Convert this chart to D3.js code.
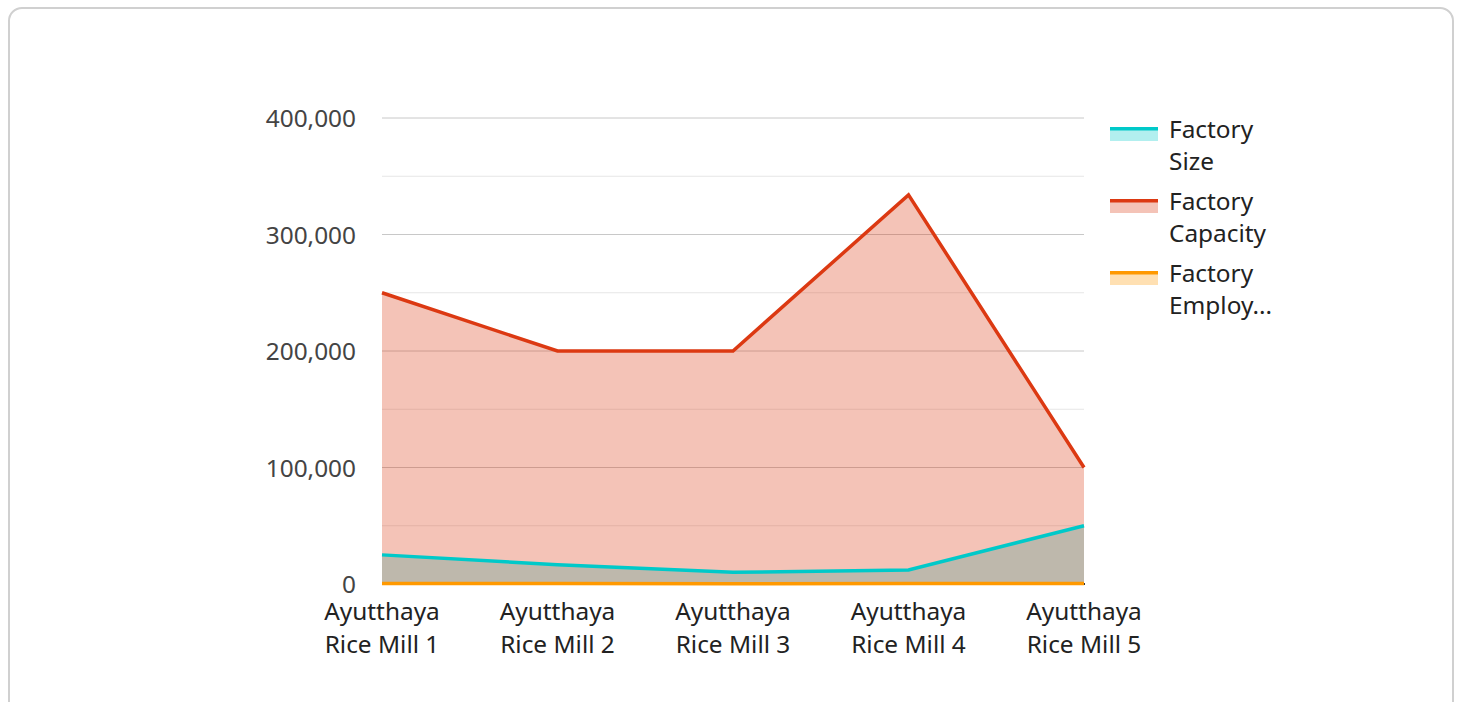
<!DOCTYPE html>
<html>
<head>
<meta charset="utf-8">
<script src="https://cdn.jsdelivr.net/npm/d3@7"></script>
<style>
  body { margin: 0; background: #fff; font-family: "Noto Sans", "Open Sans", sans-serif; }
  #card { position: absolute; left: 8px; top: 7px; width: 1446px; height: 720px;
          border: 2px solid #d0d0d0; border-radius: 14px; box-sizing: border-box; }
  svg { position: absolute; left: 0; top: 0; }
</style>
</head>
<body>
<div id="card"></div>
<svg id="chart" width="1460" height="702"></svg>
<script>
// chart data
var mills = ["Ayutthaya Rice Mill 1", "Ayutthaya Rice Mill 2", "Ayutthaya Rice Mill 3", "Ayutthaya Rice Mill 4", "Ayutthaya Rice Mill 5"];
var factorySize = [25000, 16500, 10000, 12000, 50000];
var factoryCapacity = [250000, 200000, 200000, 334000, 100000];
var factoryEmployees = [500, 400, 300, 350, 450];
var yTicks = [0, 100000, 200000, 300000, 400000];
var legendLabels = [["Factory", "Size"], ["Factory", "Capacity"], ["Factory", "Employ..."]];

var series = [
    { name: "size", values: factorySize, color: "#00c9c9" },
    { name: "capacity", values: factoryCapacity, color: "#dc3912" },
    { name: "employees", values: factoryEmployees, color: "#ff9900" }
];

var plotLeft = 382, plotRight = 1084, plotTop = 118, plotBottom = 584;
var fontSize = 24.4;
var svg = d3.select("#chart");

var x = d3.scalePoint().domain(d3.range(mills.length)).range([plotLeft, plotRight]);
var y = d3.scaleLinear().domain([0, 400000]).range([plotBottom, plotTop]);

// gridlines: minor (every 50k) then major
var g = svg.append("g");
g.selectAll("line.minor")
    .data(d3.range(50000, 400000, 100000))
    .enter().append("line")
    .attr("x1", plotLeft).attr("x2", plotRight)
    .attr("y1", function(d) { return y(d); }).attr("y2", function(d) { return y(d); })
    .attr("stroke", "#e6e6e6").attr("stroke-width", 1);
g.selectAll("line.major")
    .data(yTicks.slice(1))
    .enter().append("line")
    .attr("x1", plotLeft).attr("x2", plotRight)
    .attr("y1", function(d) { return y(d); }).attr("y2", function(d) { return y(d); })
    .attr("stroke", "#c8c8c8").attr("stroke-width", 1);

// y axis labels
var yAxis = svg.append("g")
    .attr("transform", "translate(" + (plotLeft - 26) + ",0)")
    .call(d3.axisLeft(y).tickValues(yTicks).tickSize(0).tickPadding(0).tickFormat(d3.format(",")));
yAxis.select(".domain").remove();
yAxis.selectAll("text")
    .attr("font-family", "Noto Sans, Open Sans, sans-serif")
    .attr("font-size", fontSize).attr("fill", "#444").attr("dy", "0.35em");

// x axis labels (two lines)
var xl = svg.append("g").selectAll("text")
    .data(mills).enter().append("text")
    .attr("x", function(d, i) { return x(i); })
    .attr("y", 620)
    .attr("text-anchor", "middle")
    .attr("font-size", fontSize).attr("fill", "#222");
xl.append("tspan").attr("x", function(d, i) { return x(i); })
    .text(function(d) { return d.split(" ").slice(0, 1).join(" "); });
xl.append("tspan").attr("x", function(d, i) { return x(i); }).attr("dy", 33)
    .text(function(d) { return d.split(" ").slice(1).join(" "); });

var area = function(vals) {
    return d3.area()
        .x(function(d, i) { return x(i); })
        .y0(plotBottom)
        .y1(function(d) { return y(d); })(vals);
};
var line = function(vals) {
    return d3.line()
        .x(function(d, i) { return x(i); })
        .y(function(d) { return y(d); })(vals);
};

// areas
series.forEach(function(s) {
    svg.append("path").attr("d", area(s.values))
        .attr("fill", s.color).attr("fill-opacity", 0.3);
});

// baseline
svg.append("line").attr("x1", plotLeft).attr("x2", plotRight + 1)
    .attr("y1", plotBottom).attr("y2", plotBottom)
    .attr("stroke", "#333").attr("stroke-width", 2);

// lines
series.forEach(function(s) {
    svg.append("path").attr("d", line(s.values))
        .attr("fill", "none").attr("stroke", s.color)
        .attr("stroke-width", 3.5).attr("stroke-linejoin", "miter");
});

// legend
var legend = svg.append("g").selectAll("g")
    .data(series).enter().append("g")
    .attr("transform", function(d, i) { return "translate(1110," + (127 + i * 72) + ")"; });
legend.append("rect").attr("x", 0).attr("y", 0).attr("width", 48).attr("height", 14)
    .attr("fill", function(d) { return d.color; }).attr("fill-opacity", 0.3);
legend.append("rect").attr("x", 0).attr("y", 0).attr("width", 48).attr("height", 3.5)
    .attr("fill", function(d) { return d.color; });
var lt = legend.append("text").attr("x", 59).attr("y", 11)
    .attr("font-size", fontSize).attr("fill", "#222");
lt.append("tspan").attr("x", 59).text(function(d, i) { return legendLabels[i][0]; });
lt.append("tspan").attr("x", 59).attr("dy", 32).text(function(d, i) { return legendLabels[i][1]; });
</script>
</body>
</html>
